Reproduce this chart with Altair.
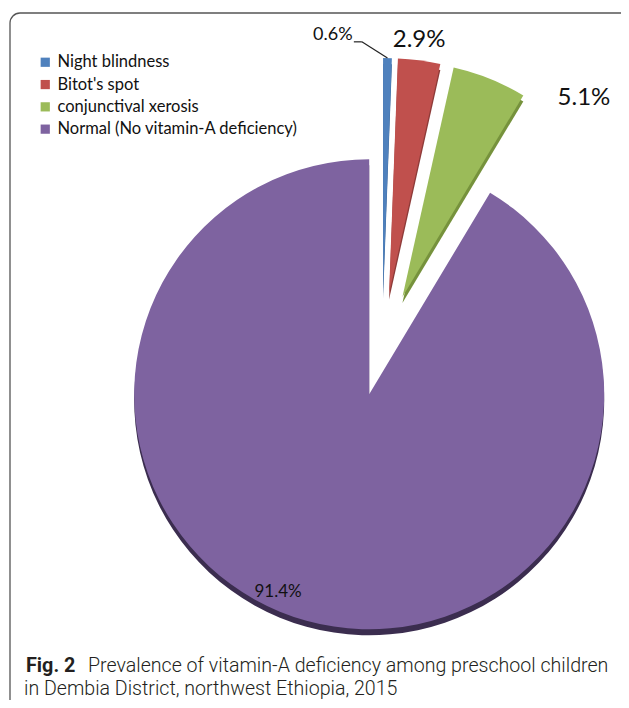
import altair as alt
import pandas as pd

# ---- data ----
categories = ["Night blindness", "Bitot's spot", "conjunctival xerosis", "Normal (No vitamin-A deficiency)"]
values = [0.6, 2.9, 5.1, 91.4]

# ---- style ----
colors = ["#4F81BD", "#C0504D", "#9BBB59", "#7E63A0"]
shadow_colors = ["#3A6190", "#8E3B39", "#76923C", "#3B2D4F"]
explode = [55, 55, 55, 48]             # px pull-out of each slice
label_dist = [317, 310, 321, 265]      # px from pie centre
label_shift = [-10.0, -0.5, 17.2, 7.6] # degrees from slice mid-angle
label_size = [18, 24, 24, 17]

W, H = 613, 692
CX, CY, R = 374, 340, 235
TOTAL = sum(values)

df = pd.DataFrame({
    "category": categories,
    "value": values,
    "order": list(range(len(categories))),
    "explode": explode,
    "ldist": label_dist,
    "lshift": label_shift,
    "fs": label_size,
})

base = alt.Chart(df).transform_window(
    cum="sum(value)", sort=[alt.SortField("order")], frame=[None, 0]
).transform_calculate(
    start="datum.cum - datum.value",
    end="datum.cum",
    mid=f"(datum.cum - datum.value/2) / {TOTAL} * 2 * PI",
).transform_calculate(
    cx=f"{CX} + datum.explode * sin(datum.mid)",
    cy=f"{CY} - datum.explode * cos(datum.mid)",
    lx=f"{CX} + datum.ldist * sin(datum.mid + datum.lshift * PI / 180)",
    ly=f"{CY} - datum.ldist * cos(datum.mid + datum.lshift * PI / 180)",
    label="format(datum.value, '.1f') + '%'",
).transform_calculate(
    tipx=f"datum.cx + {R} * sin(datum.mid)",
    tipy=f"datum.cy - {R} * cos(datum.mid)",
    sy="datum.cy + 6",
)

theta_scale = alt.Scale(domain=[0, TOTAL], range=[0, 6.283185307179586])

shadow = base.mark_arc(outerRadius=R).encode(
    x=alt.X("cx:Q", scale=None, axis=None),
    y=alt.Y("sy:Q", scale=None, axis=None),
    theta=alt.Theta("start:Q", scale=theta_scale, stack=None),
    theta2="end:Q",
    fill=alt.Fill("category:N", scale=alt.Scale(domain=categories, range=shadow_colors), legend=None),
)

slices = base.mark_arc(outerRadius=R).encode(
    x=alt.X("cx:Q", scale=None, axis=None),
    y=alt.Y("cy:Q", scale=None, axis=None),
    theta=alt.Theta("start:Q", scale=theta_scale, stack=None),
    theta2="end:Q",
    color=alt.Color(
        "category:N",
        scale=alt.Scale(domain=categories, range=colors),
        sort=categories,
        legend=alt.Legend(
            orient="none", legendX=29, legendY=46, title=None,
            symbolType="square", symbolSize=85, symbolStrokeWidth=0,
            labelFont="Lato", labelFontSize=16.5, labelColor="#111111",
            labelOffset=4, rowPadding=5.3, labelLimit=0,
        ),
    ),
)

labels = base.mark_text(font="Lato", align="center", baseline="middle", color="#111111").encode(
    x=alt.X("lx:Q", scale=None, axis=None),
    y=alt.Y("ly:Q", scale=None, axis=None),
    text="label:N",
    size=alt.Size("fs:Q", scale=None, legend=None),
)

lead = base.transform_filter("datum.order == 0")
lead1 = lead.transform_calculate(
    ax="datum.lx + 21", bx="datum.lx + 29", ay="datum.ly + 7"
).mark_rule(color="#222222", strokeWidth=1.2).encode(
    x=alt.X("ax:Q", scale=None, axis=None), x2="bx:Q",
    y=alt.Y("ay:Q", scale=None, axis=None), y2="ay:Q",
)
lead2 = lead.transform_calculate(
    bx="datum.lx + 29", ay="datum.ly + 7"
).mark_rule(color="#222222", strokeWidth=1.2).encode(
    x=alt.X("bx:Q", scale=None, axis=None), x2="tipx:Q",
    y=alt.Y("ay:Q", scale=None, axis=None), y2="tipy:Q",
)

frame = alt.Chart(pd.DataFrame({"a": [0]})).mark_rect(
    fill=None, stroke="#555555", strokeWidth=1.3, cornerRadius=10
).encode(x=alt.value(2), x2=alt.value(640), y=alt.value(5), y2=alt.value(706))

cap_font = "Roboto"
cap1 = alt.Chart(pd.DataFrame({"a": [0]})).mark_text(
    text="Fig. 2", font=cap_font, fontWeight="bold", fontSize=19.8, align="left",
    baseline="alphabetic", color="#231F20"
).encode(x=alt.value(18), y=alt.value(664))
cap2 = alt.Chart(pd.DataFrame({"a": [0]})).mark_text(
    text="Prevalence of vitamin-A deficiency among preschool children", font=cap_font,
    fontSize=19.6, fontWeight=300, align="left", baseline="alphabetic", color="#231F20"
).encode(x=alt.value(80), y=alt.value(664))
cap3 = alt.Chart(pd.DataFrame({"a": [0]})).mark_text(
    text="in Dembia District, northwest Ethiopia, 2015", font=cap_font,
    fontSize=19.6, fontWeight=300, align="left", baseline="alphabetic", color="#231F20"
).encode(x=alt.value(16), y=alt.value(687))

chart = alt.layer(frame, shadow, slices, labels, lead1, lead2, cap1, cap2, cap3).resolve_scale(
    color="independent", fill="independent"
).properties(
    width=W, height=H, padding=0, autosize=alt.AutoSizeParams(type="none"), background="white"
).configure_view(stroke=None)

chart.save("out.html", embed_options={"renderer": "svg", "actions": False})
